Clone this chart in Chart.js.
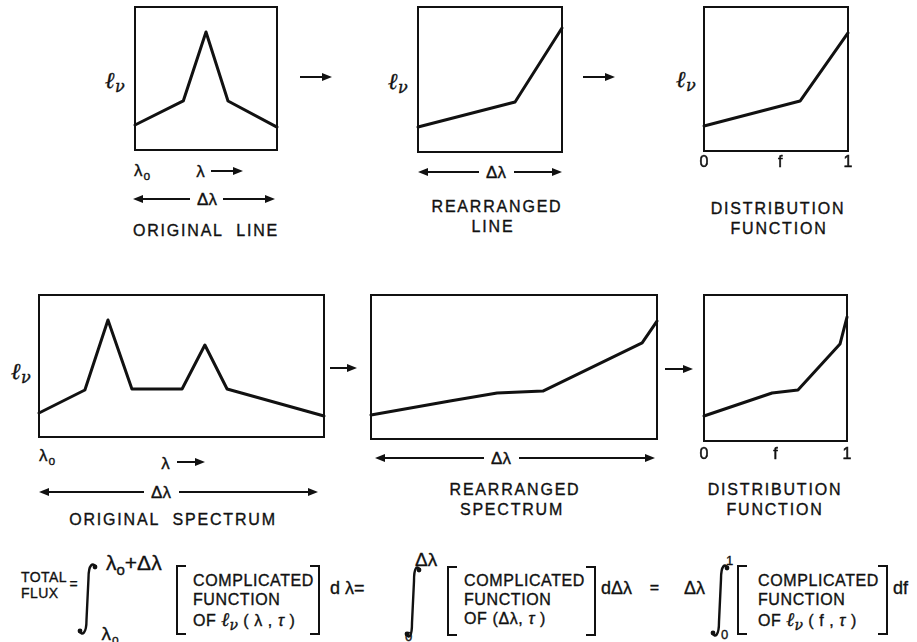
<!DOCTYPE html>
<html><head><meta charset="utf-8">
<script src="https://cdn.jsdelivr.net/npm/chart.js@4.4.1/dist/chart.umd.min.js"></script>
<style>
html,body{margin:0;padding:0;background:#fff;}
#stage{position:relative;width:917px;height:642px;overflow:hidden;background:#fff;}
.t{position:absolute;font-family:'Liberation Sans',Arial,sans-serif;color:#111;line-height:1;white-space:nowrap;letter-spacing:1px;font-size:17px;-webkit-text-stroke:0.35px #111;}
.c{transform:translate(-50%,-50%);}
.l{transform:translate(0,-50%);}
.sc{font-family:'DejaVu Serif',serif;font-style:italic;font-weight:bold;}
canvas{position:absolute;}
</style></head><body><div id="stage"></div>
<script>
// ---- data (axis range 0..10) ----
const origLineX=[0,3.4,5.0,6.55,10];
const origLineY=[1.75,3.43,8.25,3.43,1.6];
const rearrLineX=[0,6.74,10];
const rearrLineY=[1.72,3.45,8.55];
const distLineX=[0,6.67,10];
const distLineY=[1.74,3.47,8.2];
const origSpecX=[0,1.61,2.42,3.26,5.02,5.82,6.6,10];
const origSpecY=[1.69,3.31,8.24,3.38,3.38,6.48,3.38,1.48];
const rearrSpecX=[0,2.76,4.41,6.01,9.48,10];
const rearrSpecY=[1.67,2.64,3.19,3.33,6.67,8.19];
const distSpecX=[0,4.76,6.57,9.51,10];
const distSpecY=[1.71,3.29,3.49,6.64,8.49];
const distTickLabels=['0','f','1'];
const distLineTicks=[0,5.3,10];
const distSpecTicks=[0,5.0,10];

const stage=document.getElementById('stage');

const framePlugin={id:'frame',afterDatasetsDraw(chart){const a=chart.chartArea,c=chart.ctx;c.save();c.lineWidth=2;c.strokeStyle='#111';c.strokeRect(a.left,a.top,a.right-a.left,a.bottom-a.top);c.restore();}};
const tickPlugin={id:'tickText',afterDraw(chart,args,opts){if(!opts||!opts.values)return;const c=chart.ctx,a=chart.chartArea,sx=chart.scales.x;c.save();c.fillStyle='#111';c.strokeStyle='#111';c.lineWidth=0.5;c.font='16px "Liberation Sans", Arial, sans-serif';c.textAlign='center';c.textBaseline='middle';opts.values.forEach((v,i)=>{const px=sx.getPixelForValue(v),py=a.bottom+opts.offset;c.fillText(opts.labels[i],px,py);c.strokeText(opts.labels[i],px,py);});c.restore();}};

function makeChart(b,xs,ys,tk){
  const pad=6,extra=tk?28:0;
  const cv=document.createElement('canvas');
  const W=b.w+2*pad,H=b.h+2*pad+extra;
  cv.width=W;cv.height=H;cv.style.width=W+'px';cv.style.height=H+'px';
  cv.style.left=(b.x-pad)+'px';cv.style.top=(b.y-pad)+'px';
  stage.appendChild(cv);
  new Chart(cv,{type:'line',
    data:{datasets:[{data:xs.map((x,i)=>({x:x,y:ys[i]})),borderColor:'#111',borderWidth:3,pointRadius:0,tension:0,fill:false,clip:false,borderJoinStyle:'round',borderCapStyle:'round'}]},
    options:{responsive:false,animation:false,devicePixelRatio:1,events:[],
      layout:{padding:{left:pad,right:pad,top:pad,bottom:pad+extra}},
      scales:{x:{type:'linear',min:0,max:10,display:false},y:{type:'linear',min:0,max:10,display:false}},
      plugins:{legend:{display:false},tooltip:{enabled:false},tickText:tk||{}}},
    plugins:[framePlugin,tickPlugin]});
}

makeChart({x:135,y:7,w:142,h:143},origLineX,origLineY);
makeChart({x:418,y:7,w:144,h:145},rearrLineX,rearrLineY);
makeChart({x:704,y:7,w:144,h:144},distLineX,distLineY,{values:distLineTicks,labels:distTickLabels,offset:12});
makeChart({x:39,y:295,w:285,h:142},origSpecX,origSpecY);
makeChart({x:371,y:295,w:286,h:144},rearrSpecX,rearrSpecY);
makeChart({x:704,y:295,w:143,h:146},distSpecX,distSpecY,{values:distSpecTicks,labels:distTickLabels,offset:14});

// ---- text ----
function T(html,x,y,o){o=o||{};const d=document.createElement('div');d.className='t '+(o.a||'c');d.innerHTML=html;d.style.left=x+'px';d.style.top=y+'px';if(o.s)d.style.fontSize=o.s+'px';if(o.ls!=null)d.style.letterSpacing=o.ls+'px';stage.appendChild(d);}
const LNU='<span class="sc" style="font-size:23px">ℓ</span><span style="font-family:\'DejaVu Serif\',serif;font-style:italic;font-size:16px;position:relative;top:4px">ν</span>';
const LAMO='λ<span style="font-size:12px;position:relative;top:4px;margin-left:1px">o</span>';
const cap={s:16,ls:1.8};

T(LNU,115,79,{ls:0});T(LNU,398,80,{ls:0});T(LNU,686,78,{ls:0});T(LNU,21,370,{ls:0});
T(LAMO,142,170,{s:17,ls:0});T(LAMO,47,455,{s:17,ls:0});
T('λ',201,171,{s:17});T('λ',166,463,{s:17});
T('Δλ',207,199,{s:17,ls:0});T('Δλ',496,172,{s:17,ls:0});T('Δλ',161,492,{s:17,ls:0});T('Δλ',501,458,{s:17,ls:0});
T('ORIGINAL&nbsp; LINE',206,231,cap);
T('REARRANGED',497,207,cap);T('LINE',493,227,cap);
T('DISTRIBUTION',778,209,cap);T('FUNCTION',779,229,cap);
T('ORIGINAL&nbsp; SPECTRUM',173,520,cap);
T('REARRANGED',515,490,cap);T('SPECTRUM',512,510,cap);
T('DISTRIBUTION',775,490,cap);T('FUNCTION',775,510,cap);

// formula
T('TOTAL',21,577,{a:'l',s:14,ls:0.4});T('FLUX',21,593,{a:'l',s:14,ls:0.4});
T('=',74,584,{s:14});
T('λ<span style="font-size:15px;position:relative;top:5px">o</span>+Δλ',106,562,{a:'l',s:21,ls:0});
T(LAMO,110,633,{s:19,ls:0});
const OFL='OF '+'<span class="sc" style="font-size:19px;letter-spacing:0">ℓ</span><span style="font-family:\'DejaVu Serif\',serif;font-style:italic;font-size:14px;position:relative;top:4px;letter-spacing:0">ν</span>';
function block(x,l3){T('COMPLICATED',x,581,{a:'l',s:16,ls:0.6});T('FUNCTION',x,600,{a:'l',s:16,ls:0.6});T(l3,x,619,{a:'l',s:16,ls:0.6});}
block(193,OFL+' ( λ , <i>τ</i> )');
T('d λ=',330,588,{a:'l',s:18,ls:0});
T('Δλ',415,559,{a:'l',s:19,ls:0});T('0',409,636,{s:13});
block(464,'OF (Δλ, <i>τ</i> )');
T('dΔλ',601,588,{a:'l',s:18,ls:0});T('=',655,588,{s:16});
T('Δλ',684,588,{a:'l',s:18,ls:0});T('1',730,560,{s:13});T('0',725,634,{s:13});
block(758,OFL+' ( f , <i>τ</i> )');
T('df',893,588,{a:'l',s:18,ls:0});

// ---- arrows, integrals, brackets ----
let s='';
function head(x,y,dir){const L=10,Hh=4;s+=`<polygon points="${x},${y} ${x-dir*L},${y-Hh} ${x-dir*L},${y+Hh}" fill="#111"/>`;}
function arrowR(x1,x2,y){s+=`<line x1="${x1}" y1="${y}" x2="${x2-6}" y2="${y}" stroke="#111" stroke-width="2"/>`;head(x2,y,1);}
function dbl(x1,g1,g2,x2,y){s+=`<line x1="${x1+6}" y1="${y}" x2="${g1}" y2="${y}" stroke="#111" stroke-width="2"/><line x1="${g2}" y1="${y}" x2="${x2-6}" y2="${y}" stroke="#111" stroke-width="2"/>`;head(x1,y,-1);head(x2,y,1);}
arrowR(300,332,77);arrowR(583,615,77);arrowR(330,357,368);arrowR(665,693,369);
arrowR(211,243,171);arrowR(177,205,462);
dbl(133,190,223,275,199);dbl(418,479,514,562,172);dbl(39,144,179,318,492);dbl(375,484,519,655,458);
function integ(x0,y0,x1,y1){const xm=(x0+x1)/2;
  s+=`<path d="M ${x1-1} ${y0+3} C ${x1-4} ${y0-2}, ${xm+1} ${y0}, ${xm+1} ${y0+14} L ${xm-1} ${y1-14} C ${xm-1} ${y1}, ${x0+4} ${y1+2}, ${x0+1} ${y1-3}" fill="none" stroke="#111" stroke-width="2.4"/>`;
  s+=`<circle cx="${x0+2}" cy="${y1-3}" r="2.4" fill="#111"/><circle cx="${x1-2}" cy="${y0+3}" r="2.4" fill="#111"/>`;}
integ(78,564,97,634);integ(405,567,421,637);integ(711,565,729,636);
function brk(x,y0,y1,dir){s+=`<path d="M ${x+dir*9} ${y0} H ${x} V ${y1} H ${x+dir*9}" fill="none" stroke="#111" stroke-width="2"/>`;}
brk(177,566,634,1);brk(319,566,634,-1);brk(448,567,635,1);brk(595,567,635,-1);brk(738,566,634,1);brk(887,566,634,-1);
const svg=document.createElementNS('http://www.w3.org/2000/svg','svg');
svg.setAttribute('width','917');svg.setAttribute('height','642');svg.style.position='absolute';svg.style.left='0';svg.style.top='0';
svg.innerHTML=s;stage.appendChild(svg);
</script></body></html>
